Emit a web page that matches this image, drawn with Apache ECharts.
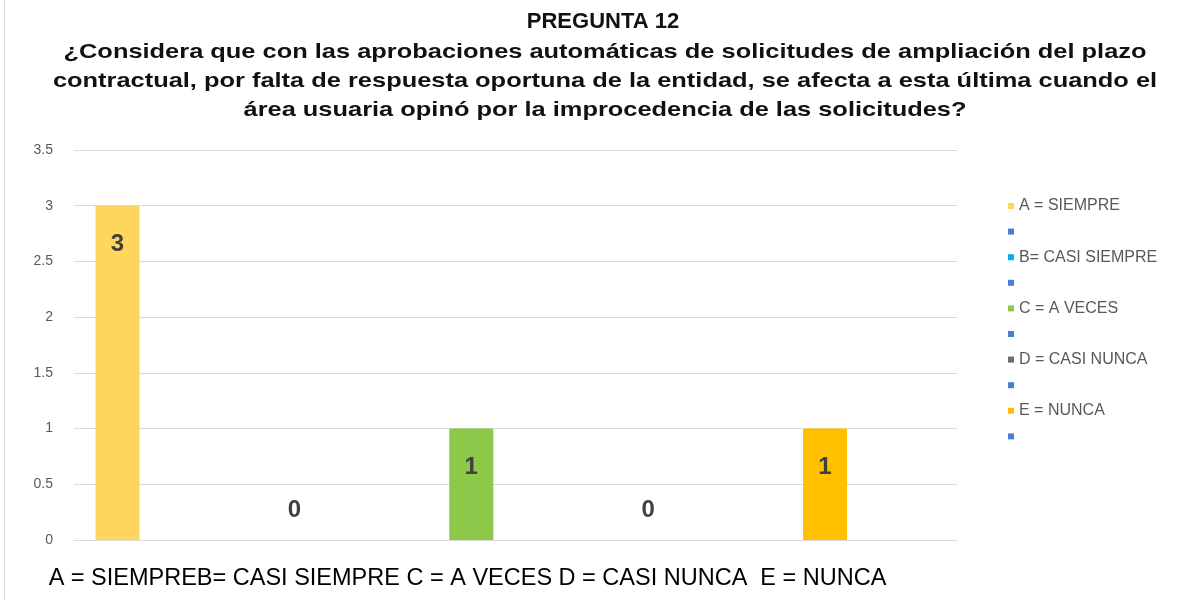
<!doctype html>
<html>
<head>
  <meta charset="UTF-8" />
  <title>Pregunta 12</title>
  <script src="https://cdn.jsdelivr.net/npm/echarts@6.0.0/dist/echarts.min.js"></script>
  <style>
    html, body { margin: 0; padding: 0; background: #ffffff; }
    #chart { width: 1188px; height: 600px; }
  </style>
</head>
<body>
  <div id="chart"></div>
  <script>
    const titleMain = "PREGUNTA 12";
    const titleQuestion = [
      "¿Considera que con las aprobaciones automáticas de solicitudes de ampliación del plazo",
      "contractual, por falta de respuesta oportuna de la entidad, se afecta a esta última cuando el",
      "área usuaria opinó por la improcedencia de las solicitudes?"
    ];
    // one category, as in the original workbook
    const categories = ["A = SIEMPREB= CASI SIEMPRE C = A VECES D = CASI NUNCA  E = NUNCA"];
    // blank names are the empty series of the original sheet
    const seriesNames = ["A = SIEMPRE", " ", "B= CASI SIEMPRE", "  ", "C = A VECES", "   ", "D = CASI NUNCA", "    ", "E = NUNCA", "     "];
    const seriesValues = [3, null, 0, null, 1, null, 0, null, 1, null];
    const seriesColors = ["#ffd65c", "#4a7fcf", "#00b0f0", "#4a7fcf", "#8cc94b", "#4a7fcf", "#6b6b6b", "#4a7fcf", "#ffc000", "#4a7fcf"];
    const yTicks = { min: 0, max: 3.5, interval: 0.5 };

    const chart = echarts.init(document.getElementById("chart"));
    const font = "'Liberation Sans', Arial, sans-serif";

    const series = seriesNames.map((name, i) => {
      const v = seriesValues[i];
      let item;
      if (v == null) {
        item = "-";
      } else if (v === 0) {
        item = { value: v, label: { position: "top", distance: 18 } };
      } else {
        item = { value: v };
      }
      return {
        name: name,
        type: "bar",
        barWidth: 44,
        barGap: "101%",
        itemStyle: { color: seriesColors[i] },
        label: {
          show: v != null,
          position: "insideTop",
          distance: 27,
          color: "#404040",
          fontFamily: font,
          fontWeight: "bold",
          fontSize: 24
        },
        data: [item]
      };
    });

    // the question text is a little stretched sideways in the original
    const questionText = titleQuestion.map((line, i) => ({
      type: "text",
      x: 605,
      y: 52 + i * 29,
      scaleX: 1.21,
      style: {
        text: line,
        align: "center",
        verticalAlign: "middle",
        font: "bold 21px " + font,
        fill: "#111111"
      }
    }));

    const option = {
      backgroundColor: "#ffffff",
      animation: false,
      title: {
        text: titleMain,
        left: 603,
        top: 11,
        textAlign: "center",
        padding: 0,
        textStyle: { fontFamily: font, fontWeight: "bold", fontSize: 22, color: "#111111" }
      },
      legend: {
        orient: "vertical",
        left: 1003,
        top: 193,
        itemWidth: 6,
        itemHeight: 6,
        itemGap: 9.6,
        icon: "rect",
        textStyle: { fontFamily: font, fontSize: 16, color: "#595959" },
        data: seriesNames
      },
      grid: { left: 74, right: 231, top: 150, bottom: 60, containLabel: false },
      xAxis: {
        type: "category",
        data: categories,
        axisLine: { show: true, lineStyle: { color: "#d9d9d9", width: 1 } },
        axisTick: { show: false },
        axisLabel: {
          margin: 27,
          color: "#000000",
          fontFamily: font,
          fontSize: 23.5,
          padding: [0, 96, 0, 0]
        }
      },
      yAxis: {
        type: "value",
        min: yTicks.min,
        max: yTicks.max,
        interval: yTicks.interval,
        axisLine: { show: false },
        axisTick: { show: false },
        axisLabel: { margin: 21, color: "#595959", fontFamily: font, fontSize: 14 },
        splitLine: { lineStyle: { color: "#d9d9d9", width: 1 } }
      },
      graphic: [
        {
          type: "line",
          shape: { x1: 4.5, y1: 0, x2: 4.5, y2: 600 },
          style: { stroke: "#d9d9d9", lineWidth: 1 }
        }
      ].concat(questionText),
      series: series
    };

    chart.setOption(option);
  </script>
</body>
</html>
